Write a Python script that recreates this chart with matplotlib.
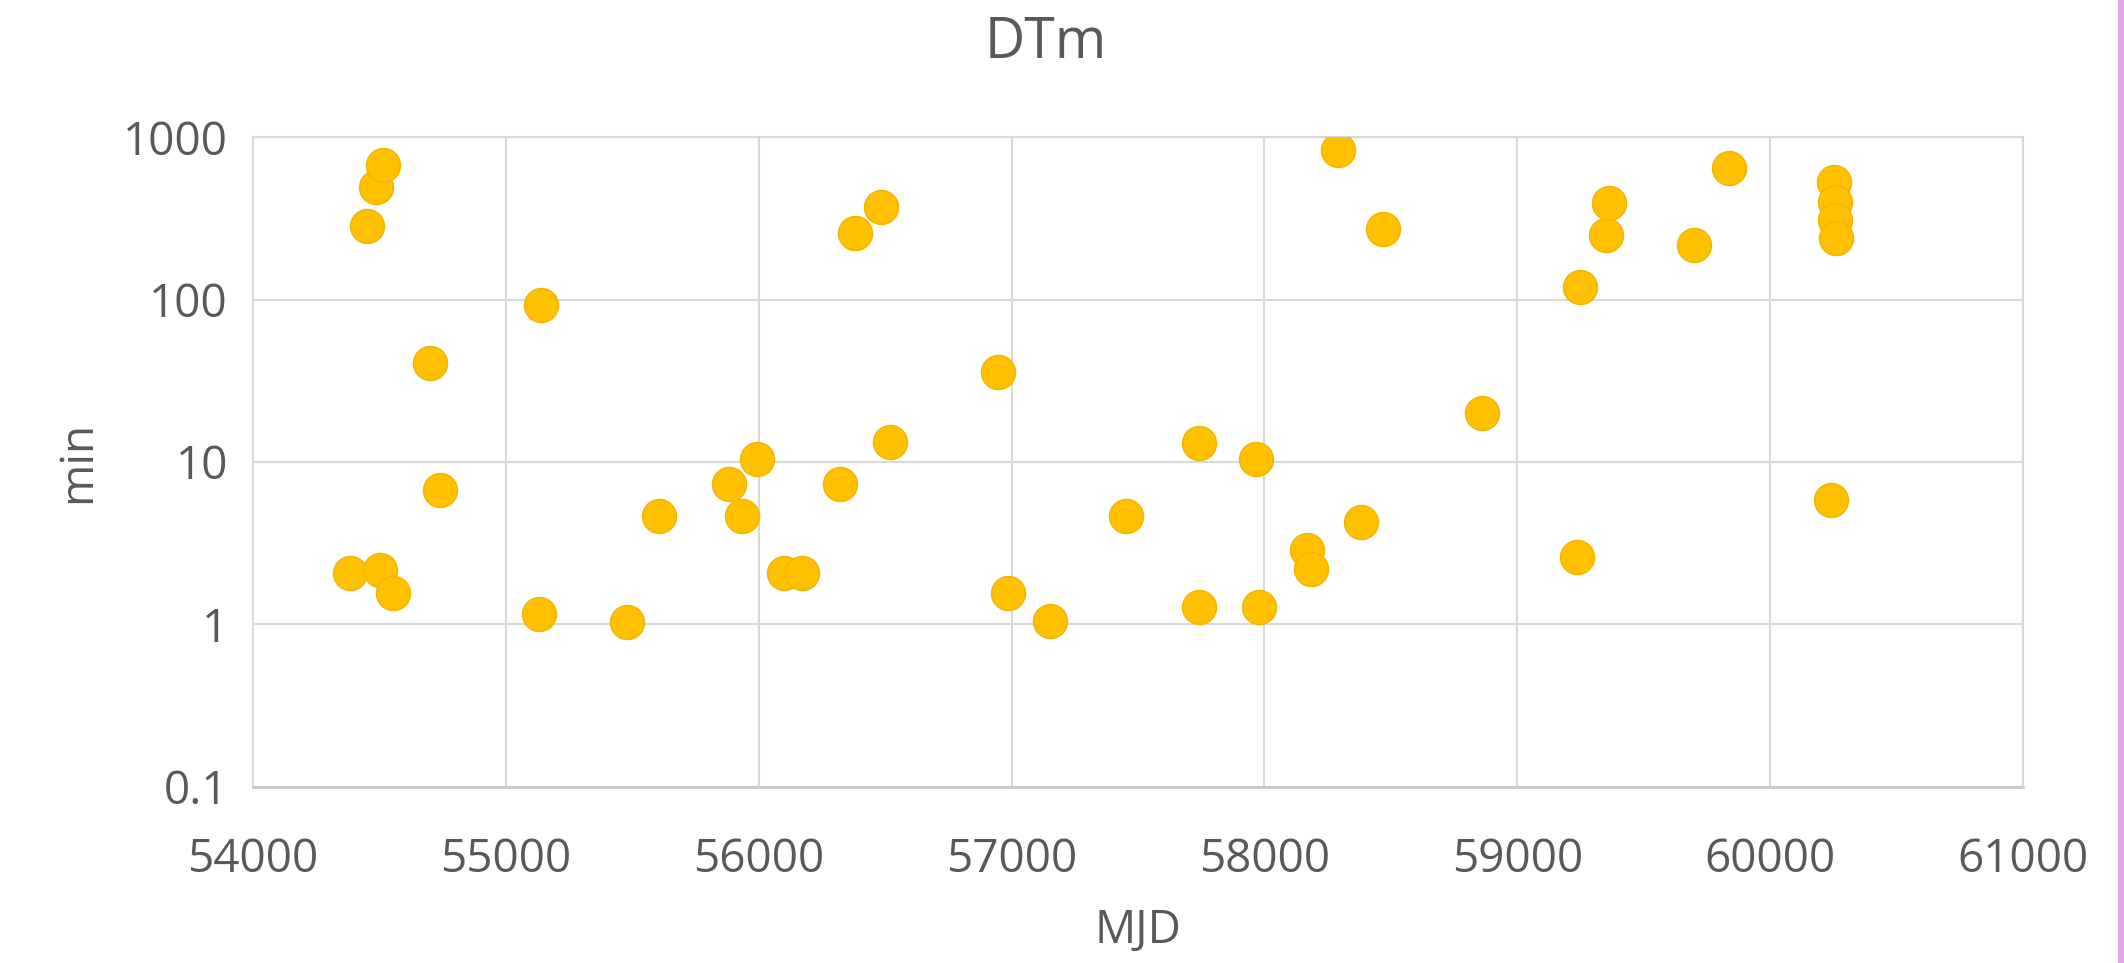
import matplotlib.pyplot as plt
from matplotlib.patches import Rectangle

# MJD vs DTm (minutes)
mjd = [
    54383, 54451, 54488, 54501, 54514, 54554, 54702, 54741,
    55130, 55139, 55479, 55606, 55882, 55935, 55994, 56099,
    56172, 56323, 56382, 56485, 56520, 56948, 56987, 57152,
    57452, 57740, 57740, 57967, 57980, 58168, 58182, 58292,
    58382, 58467, 58859, 59234, 59247, 59349, 59362, 59698,
    59836, 60239, 60254, 60256, 60258, 60260,
]
dtm_min = [
    2.07, 283, 494, 2.16, 673, 1.56, 40.8, 6.7,
    1.16, 92.5, 1.04, 4.65, 7.33, 4.65, 10.5, 2.07,
    2.07, 7.33, 258, 369, 13.3, 35.7, 1.57, 1.05,
    4.65, 13.0, 1.28, 10.5, 1.28, 2.87, 2.19, 832,
    4.3, 271, 20, 2.61, 120, 249, 391, 216,
    641, 5.83, 531, 400, 308, 238,
]

x_ticks = [54000, 55000, 56000, 57000, 58000, 59000, 60000, 61000]
y_ticks = [0.1, 1, 10, 100, 1000]
y_tick_labels = ["0.1", "1", "10", "100", "1000"]

TEXT_COLOR = "#595959"
GRID_COLOR = "#D9D9D9"

plt.rcParams["font.family"] = ["Open Sans", "DejaVu Sans"]

fig = plt.figure(figsize=(21.24, 9.63), dpi=100)
ax = fig.add_axes([0.1191, 0.1828, 0.8334, 0.6749])

ax.scatter(mjd, dtm_min, s=600, color="#FFC000", edgecolors="#F2B400",
           linewidths=1.0, zorder=3)

ax.set_yscale("log")
ax.set_xlim(54000, 61000)
ax.set_ylim(0.1, 1000)
ax.set_xticks(x_ticks)
ax.set_xticklabels([str(t) for t in x_ticks])
ax.set_yticks(y_ticks)
ax.set_yticklabels(y_tick_labels)
ax.minorticks_off()

ax.grid(True, color=GRID_COLOR, linewidth=1.5, zorder=0)
for side in ax.spines.values():
    side.set_color(GRID_COLOR)
    side.set_linewidth(1.5)
ax.spines["bottom"].set_color("#C8C8C8")
ax.spines["bottom"].set_linewidth(2)

ax.tick_params(axis="both", length=0, labelsize=33, labelcolor=TEXT_COLOR)
ax.tick_params(axis="x", pad=36)
ax.tick_params(axis="y", pad=18)

fig.text(0.4925, 0.955, "DTm", fontsize=40, color=TEXT_COLOR,
         ha="center", va="center")
ax.set_xlabel("MJD", fontsize=33, color=TEXT_COLOR, labelpad=18)
ax.set_ylabel("min", fontsize=33, color=TEXT_COLOR, labelpad=16)

# pink strip on the right edge of the screenshot
fig.patches.append(Rectangle((0.9972, 0), 0.0028, 1, transform=fig.transFigure,
                             color="#E9A3E9", zorder=5))

fig.savefig("out.png", dpi=100)
plt.close(fig)
